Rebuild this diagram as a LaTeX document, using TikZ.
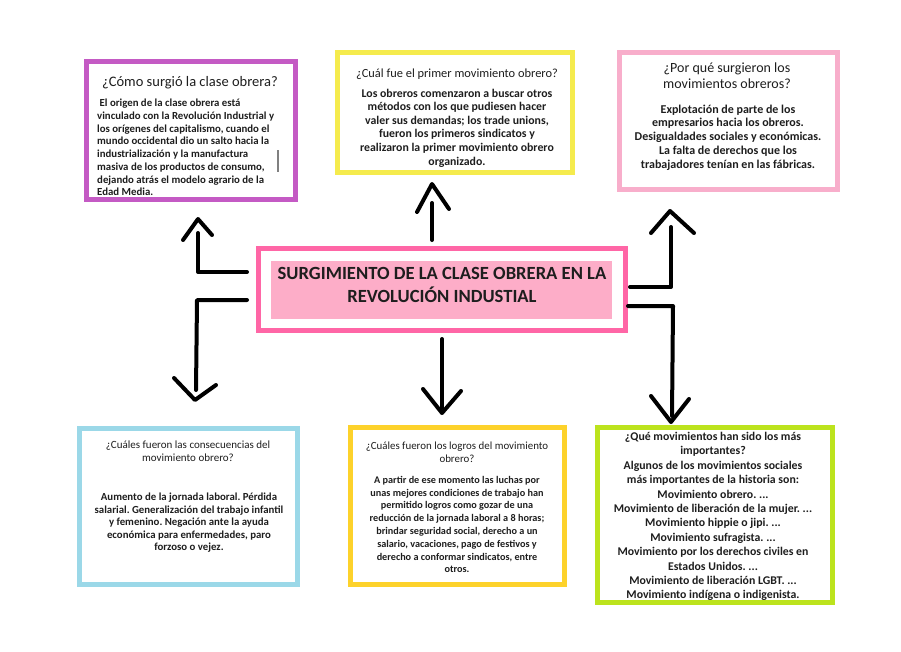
\documentclass[tikz,border=0pt]{standalone}
\usepackage{fontspec}
\setmainfont{Carlito}
\frenchspacing
\definecolor{cpurple}{HTML}{C45AC4}
\definecolor{cyellow}{HTML}{F5EB4D}
\definecolor{cpinkl}{HTML}{F8AECB}
\definecolor{chot}{HTML}{FF66A6}
\definecolor{cfill}{HTML}{FDADC8}
\definecolor{cblue}{HTML}{9BD8E8}
\definecolor{cgold}{HTML}{FDD22B}
\definecolor{clime}{HTML}{BCE31D}
\definecolor{ctext}{HTML}{1E1E1E}
\tikzset{
  framebox/.style={draw=#1, line width=5pt, inner sep=0pt, fill=white},
  txt/.style={inner sep=0pt, align=center, text=ctext},
  conn/.style={line width=4pt, line cap=round, line join=round},
}
\begin{document}
\begin{tikzpicture}[x=1pt,y=-1pt]
\useasboundingbox[fill=white] (0,0) rectangle (901,651);

% boxes
\node[framebox=cpurple, minimum width=209pt, minimum height=138pt] (b1) at (191,130.5) {};
\node[framebox=cyellow, minimum width=235pt, minimum height=120pt] (b2) at (455,112.5) {};
\node[framebox=cpinkl, minimum width=218pt, minimum height=137pt] (b3) at (728.5,121) {};
\node[framebox=chot, minimum width=367pt, minimum height=82pt] (c) at (442,289.5) {};
\node[fill=cfill, minimum width=341pt, minimum height=58pt, inner sep=0pt] (cin) at (441.5,290) {};
\node[framebox=cblue, minimum width=218pt, minimum height=156pt] (b4) at (188.5,506.5) {};
\node[framebox=cgold, minimum width=214pt, minimum height=157pt] (b5) at (457.5,506) {};
\node[framebox=clime, minimum width=235pt, minimum height=175pt] (b6) at (715,515) {};

% center text
\node[txt, font=\fontsize{18.6}{23}\selectfont\bfseries] (ct) at (442,285)
 {SURGIMIENTO DE LA CLASE OBRERA EN LA\\REVOLUCIÓN INDUSTIAL};

% box 1
\node[txt, font=\fontsize{14.5}{16}\selectfont] (t1) at (190,83) {¿Cómo surgió la clase obrera?};
\node[txt, align=left, anchor=west, font=\fontsize{10.8}{12.7}\selectfont\bfseries] (x1) at (97,147.5)
 {\ El origen de la clase obrera está\\
  vinculado con la Revolución Industrial y\\
  los orígenes del capitalismo, cuando el\\
  mundo occidental dio un salto hacia la\\
  industrialización y la manufactura\\
  masiva de los productos de consumo,\\
  dejando atrás el modelo agrario de la\\
  Edad Media.};
\draw[gray, line width=1.5pt] (278,150) -- (278,172);

% box 2
\node[txt, font=\fontsize{12.4}{12}\selectfont] (t2) at (457,74) {¿Cuál fue el primer movimiento obrero?};
\node[txt, font=\fontsize{11.8}{13.6}\selectfont\bfseries] (x2) at (457,128)
 {Los obreros comenzaron a buscar otros\\
  métodos con los que pudiesen hacer\\
  valer sus demandas; los trade unions,\\
  fueron los primeros sindicatos y\\
  realizaron la primer movimiento obrero\\
  organizado.};

% box 3
\node[txt, font=\fontsize{14}{16}\selectfont] (t3) at (727,76) {¿Por qué surgieron los\\movimientos obreros?};
\node[txt, font=\fontsize{12}{13.75}\selectfont\bfseries] (x3) at (728,137.5)
 {Explotación de parte de los\\
  empresarios hacia los obreros.\\
  Desigualdades sociales y económicas.\\
  La falta de derechos que los\\
  trabajadores tenían en las fábricas.};

% box 4
\node[txt, font=\fontsize{11}{12.5}\selectfont] (t4) at (188,451) {¿Cuáles fueron las consecuencias del\\movimiento obrero?};
\node[txt, font=\fontsize{10.8}{12.5}\selectfont\bfseries] (x4) at (189,523)
 {Aumento de la jornada laboral. Pérdida\\
  salarial. Generalización del trabajo infantil\\
  y femenino. Negación ante la ayuda\\
  económica para enfermedades, paro\\
  forzoso o vejez.};

% box 5
\node[txt, font=\fontsize{10.9}{12.5}\selectfont] (t5) at (457,452) {¿Cuáles fueron los logros del movimiento\\obrero?};
\begin{scope}
\clip (348,425) rectangle (567,572.5);
\node[txt, font=\fontsize{10.2}{12.8}\selectfont\bfseries] (x5) at (457,524.5)
 {A partir de ese momento las luchas por\\
  unas mejores condiciones de trabajo han\\
  permitido logros como gozar de una\\
  reducción de la jornada laboral a 8 horas;\\
  brindar seguridad social, derecho a un\\
  salario, vacaciones, pago de festivos y\\
  derecho a conformar sindicatos, entre\\
  otros.};
\end{scope}

% box 6
\node[txt, font=\fontsize{11.8}{14.4}\selectfont\bfseries] (x6) at (713,516.5)
 {¿Qué movimientos han sido los más\\
  importantes?\\
  Algunos de los movimientos sociales\\
  más importantes de la historia son:\\
  Movimiento obrero. ...\\
  Movimiento de liberación de la mujer. ...\\
  Movimiento hippie o jipi. ...\\
  Movimiento sufragista. ...\\
  Movimiento por los derechos civiles en\\
  Estados Unidos. ...\\
  Movimiento de liberación LGBT. ...\\
  Movimiento indígena o indigenista.};

% connector coordinates
\coordinate (a1s) at (247,272); \coordinate (a1k) at (198,272); \coordinate (a1e) at (198,233);
\coordinate (a1l) at (183,240); \coordinate (a1t) at (198,219); \coordinate (a1r) at (212,235);

\coordinate (a2s) at (247,300); \coordinate (a2k) at (197,300); \coordinate (a2e) at (196,390);
\coordinate (a2l) at (174,378); \coordinate (a2t) at (195,400); \coordinate (a2r) at (216,385);

\coordinate (a3s) at (432,240); \coordinate (a3e) at (432,203);
\coordinate (a3l) at (417,212); \coordinate (a3t) at (432,184); \coordinate (a3r) at (449,209);

\coordinate (a4s) at (442,339); \coordinate (a4e) at (442,408);
\coordinate (a4l) at (423,389); \coordinate (a4t) at (442,413); \coordinate (a4r) at (461,391);

\coordinate (a5s) at (630,287); \coordinate (a5k) at (671,287); \coordinate (a5e) at (671,227);
\coordinate (a5l) at (651,233); \coordinate (a5t) at (670,211); \coordinate (a5r) at (694,233);

\coordinate (a6s) at (628,306); \coordinate (a6k) at (673,306); \coordinate (a6e) at (672,416);
\coordinate (a6l) at (651,396); \coordinate (a6t) at (671,422); \coordinate (a6r) at (689,399);

\draw[conn] (a1s) -- (a1k) -- (a1e);
\draw[conn] (a1l) -- (a1t) -- (a1r);
\draw[conn] (a2s) -- (a2k) -- (a2e);
\draw[conn] (a2l) -- (a2t) -- (a2r);
\draw[conn] (a3s) -- (a3e);
\draw[conn] (a3l) -- (a3t) -- (a3r);
\draw[conn] (a4s) -- (a4e);
\draw[conn] (a4l) -- (a4t) -- (a4r);
\draw[conn] (a5s) -- (a5k) -- (a5e);
\draw[conn] (a5l) -- (a5t) -- (a5r);
\draw[conn] (a6s) -- (a6k) -- (a6e);
\draw[conn] (a6l) -- (a6t) -- (a6r);
\end{tikzpicture}
\end{document}
